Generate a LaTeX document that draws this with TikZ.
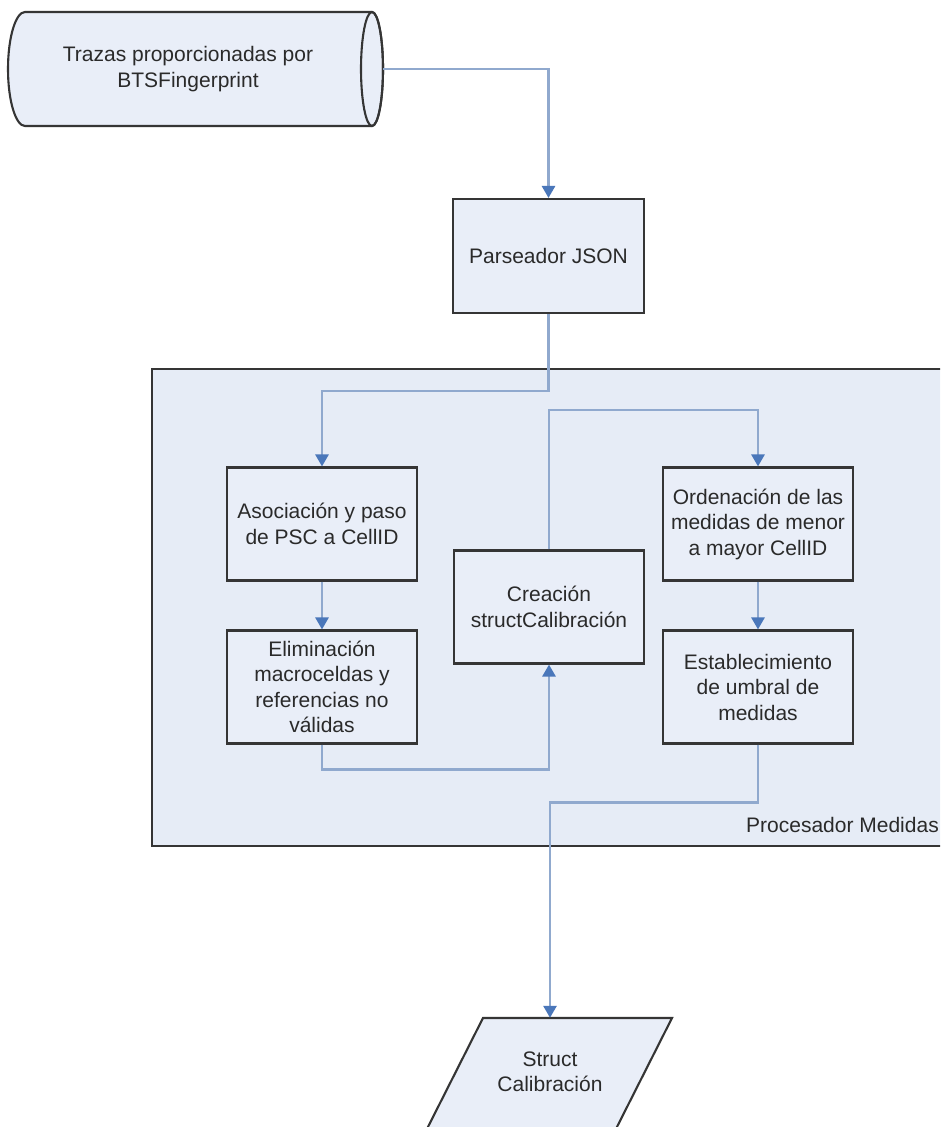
\documentclass[tikz,border=0pt]{standalone}
\usepackage{fontspec}
\setmainfont{Liberation Sans}
\usetikzlibrary{arrows.meta,calc}
\definecolor{boxfill}{HTML}{E9EEF8}
\definecolor{panelfill}{HTML}{E6ECF6}
\definecolor{edge}{HTML}{353535}
\definecolor{wire}{HTML}{90A9CE}
\definecolor{tipblue}{HTML}{4A77BA}
\definecolor{ink}{HTML}{2A2A2A}
\begin{document}
\begin{tikzpicture}[x=1pt,y=-1pt,
  every node/.style={font=\fontsize{21}{25.5}\selectfont, text=ink},
  procbox/.style={draw=edge, fill=boxfill, line width=2.1pt, minimum width=190pt,
    minimum height=113pt, align=center, inner sep=2pt},
  ghost/.style={draw=none, align=center, inner sep=0pt},
  shapeline/.style={draw=edge, fill=boxfill, line width=2.1pt},
  flow/.style={draw=wire, line width=2.7pt,
    -{Triangle[width=13pt,length=12pt,color=tipblue,fill=tipblue]}}]

  \useasboundingbox (0,0) rectangle (940,1127);
  \fill[white] (0,0) rectangle (940,1127);
  \clip (0,0) rectangle (940,1127);

  % data source drawn as a horizontal cylinder
  \path[shapeline] (372,12) -- (25,12)
    arc[start angle=270, end angle=90, x radius=17, y radius=57]
    -- (372,126)
    arc[start angle=90, end angle=-90, x radius=11, y radius=57] -- cycle;
  \draw[edge, line width=2.1pt] (372,69) ellipse[x radius=11, y radius=57];
  \node[ghost, minimum width=390pt, minimum height=114pt] (src) at (188,69)
    {Trazas proporcionadas por\\BTSFingerprint};

  % parser
  \node[procbox, minimum width=191pt, minimum height=114pt] (parse) at (548.5,256) {Parseador JSON};

  % measurement processor container
  \node[draw=edge, fill=panelfill, line width=2.1pt, minimum width=810pt,
    minimum height=477pt, inner sep=0pt] (panel) at (557,607.5) {};
  \node[ghost, anchor=west] (plabel) at (746,825) {Procesador Medidas};

  % processing steps
  \node[procbox] (asoc)  at (322,524) {Asociación y paso\\de PSC a CellID};
  \node[procbox] (elim)  at (322,687) {Eliminación\\macroceldas y\\referencias no\\válidas};
  \node[procbox] (crea)  at (549,607) {Creación\\structCalibración};
  \node[procbox] (orden) at (758,524) {Ordenación de las\\medidas de menor\\a mayor CellID};
  \node[procbox] (estab) at (758,687) {Establecimiento\\de umbral de\\medidas};

  % output data (parallelogram)
  \path[shapeline] (483,1018) -- (672,1018) -- (614.4,1132) -- (425.4,1132) -- cycle;
  \node[ghost, minimum width=150pt, minimum height=108pt] (out) at (550,1072)
    {Struct\\Calibración};

  % connectors
  \draw[flow] (src.east) -| (parse.north);
  \draw[flow] (parse.south) -- ++(0,77) -| (asoc.north);
  \draw[flow] (asoc.south) -- (elim.north);
  \draw[flow] (elim.south) -- ++(0,25) -| (crea.south);
  \draw[flow] (crea.north) -- ++(0,-139.5) -| (orden.north);
  \draw[flow] (orden.south) -- (estab.north);
  \draw[flow] (estab.south) -- ++(0,58) -| (out.north);
\end{tikzpicture}
\end{document}
